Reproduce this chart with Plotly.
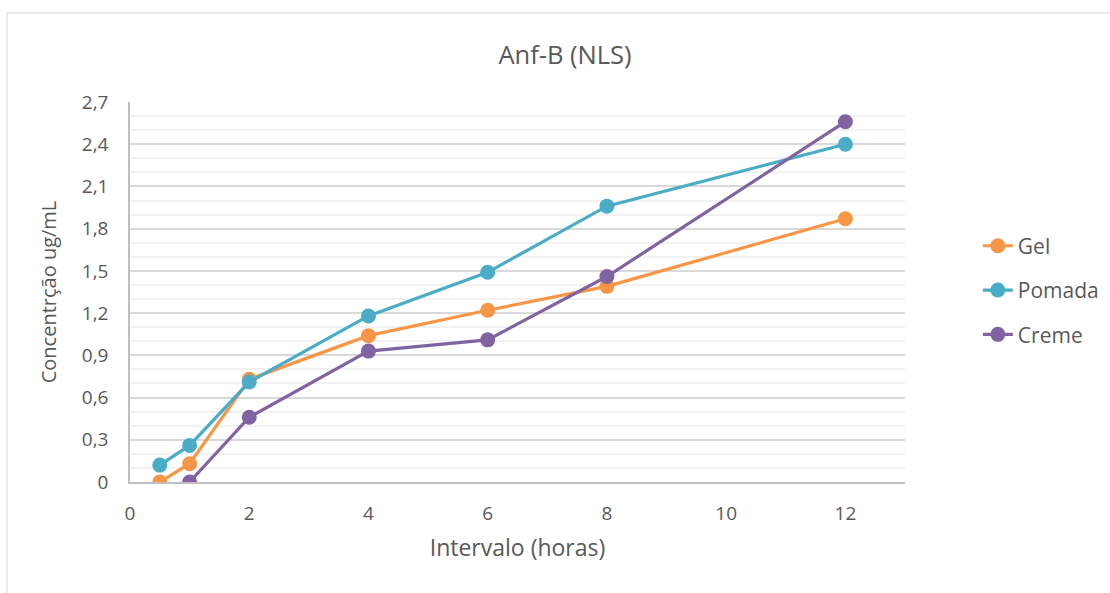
import plotly.graph_objects as go

# Data
x_gel = [0.5, 1, 2, 4, 6, 8, 12]
y_gel = [0.0, 0.13, 0.73, 1.04, 1.22, 1.39, 1.87]

x_pomada = [0.5, 1, 2, 4, 6, 8, 12]
y_pomada = [0.12, 0.26, 0.71, 1.18, 1.49, 1.96, 2.40]

x_creme = [1, 2, 4, 6, 8, 12]
y_creme = [0.0, 0.46, 0.93, 1.01, 1.46, 2.56]

y_tickvals = [0, 0.3, 0.6, 0.9, 1.2, 1.5, 1.8, 2.1, 2.4, 2.7]
y_ticktext = ["0", "0,3", "0,6", "0,9", "1,2", "1,5", "1,8", "2,1", "2,4", "2,7"]
x_tickvals = [0, 2, 4, 6, 8, 10, 12]

TEXT = "#595959"
FONT = "Open Sans"

fig = go.Figure()
series = [
    ("Gel", x_gel, y_gel, "#F79646"),
    ("Pomada", x_pomada, y_pomada, "#4BACC6"),
    ("Creme", x_creme, y_creme, "#8064A2"),
]
for name, xs, ys, col in series:
    fig.add_trace(go.Scatter(
        x=xs, y=ys, name=name, mode="lines+markers",
        line=dict(color=col, width=3.2),
        marker=dict(color=col, size=15),
        legendgroup=name,
    ))

fig.update_layout(
    width=1110, height=593,
    margin=dict(l=130, r=205, t=102, b=111, autoexpand=False),
    paper_bgcolor="white", plot_bgcolor="white",
    font=dict(family=FONT, color=TEXT, size=19),
    title=dict(text="Anf-B (NLS)", x=(565 - 130) / 775, xref="paper", xanchor="center",
               y=1 - 55 / 593, yanchor="middle", font=dict(size=25.5, color=TEXT, family=FONT)),
    showlegend=True,
    legend=dict(x=1.094, xanchor="left", y=0.505, yanchor="middle",
                font=dict(size=21, color=TEXT, family=FONT),
                tracegroupgap=14, bgcolor="rgba(0,0,0,0)"),
    xaxis=dict(range=[0, 13], tickvals=x_tickvals, showgrid=False, zeroline=False,
               showline=True, linecolor="#BFBFBF", linewidth=1.5,
               ticks="", ticklabelstandoff=13, tickfont=dict(size=19, color=TEXT),
               title=dict(text="Intervalo (horas)", standoff=15, font=dict(size=23, color=TEXT))),
    yaxis=dict(range=[0, 2.7], tickvals=y_tickvals, ticktext=y_ticktext,
               showgrid=True, gridcolor="#D9D9D9", gridwidth=1.5, zeroline=False,
               showline=True, linecolor="#BFBFBF", linewidth=1.5,
               ticks="", ticklabelstandoff=16, tickfont=dict(size=19, color=TEXT),
               minor=dict(dtick=0.1, tick0=0, showgrid=True, gridcolor="#F2F2F2", gridwidth=1.5),
               title=dict(text="Concentrção ug/mL", standoff=20, font=dict(size=20, color=TEXT))),
)

# outer chart border (light gray), partially outside the window like the reference
fig.add_shape(type="rect", xref="paper", yref="paper",
              x0=(7 - 130) / 775, x1=(1130 - 130) / 775,
              y0=(482 - 620) / 380, y1=(482 - 13) / 380,
              line=dict(color="#D9D9D9", width=1), fillcolor="rgba(0,0,0,0)", layer="below")

fig.write_html("out.html")
